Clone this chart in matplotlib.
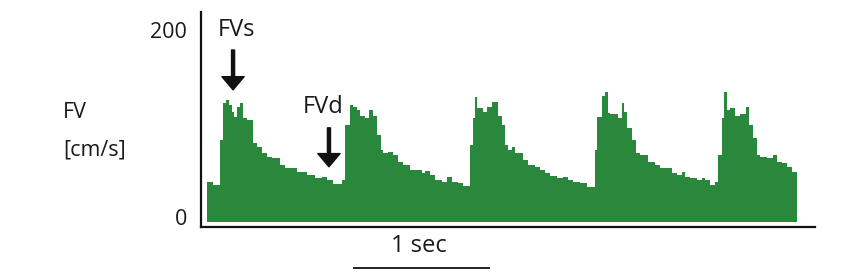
import matplotlib
matplotlib.use("Agg")
import matplotlib.pyplot as plt
import matplotlib.transforms as mtransforms

plt.rcParams['font.family'] = ['Open Sans', 'DejaVu Sans']

# ---- data: Doppler flow-velocity trace (step samples) ----
step_start_s = [
    0.000, 0.044, 0.095, 0.117, 0.139, 0.161, 0.182, 0.197, 0.219, 0.241,
    0.263, 0.292, 0.336, 0.365, 0.401, 0.438, 0.474, 0.533, 0.569, 0.657,
    0.730, 0.788, 0.839, 0.876, 0.920, 0.985, 1.007, 1.044, 1.066, 1.095,
    1.117, 1.153, 1.182, 1.212, 1.241, 1.270, 1.285, 1.321, 1.358, 1.394,
    1.431, 1.482, 1.569, 1.591, 1.628, 1.664, 1.715, 1.752, 1.788, 1.832,
    1.869, 1.920, 1.942, 1.956, 1.971, 2.015, 2.044, 2.080, 2.124, 2.153,
    2.175, 2.197, 2.226, 2.248, 2.270, 2.307, 2.343, 2.394, 2.431, 2.467,
    2.504, 2.555, 2.599, 2.635, 2.672, 2.723, 2.774, 2.832, 2.847, 2.883,
    2.905, 2.927, 2.942, 3.000, 3.029, 3.044, 3.066, 3.102, 3.131, 3.161,
    3.219, 3.270, 3.307, 3.394, 3.431, 3.467, 3.489, 3.526, 3.577, 3.613,
    3.635, 3.672, 3.708, 3.730, 3.759, 3.774, 3.796, 3.818, 3.854, 3.891,
    3.934, 3.956, 3.985, 4.015, 4.036, 4.088, 4.131, 4.161, 4.197, 4.234,
    4.270,
]
velocity_cm_s = [
    40, 37, 84, 123, 126, 121, 114, 108, 119, 123,
    107, 105, 81, 77, 70, 66, 65, 58, 55, 50,
    47, 44, 45, 42, 38, 42, 100, 121, 119, 116,
    110, 107, 116, 110, 89, 74, 70, 72, 68, 61,
    58, 53, 49, 52, 47, 42, 40, 45, 40, 39,
    36, 79, 107, 130, 118, 114, 119, 124, 110, 100,
    79, 74, 77, 71, 70, 63, 58, 56, 53, 49,
    46, 44, 45, 42, 40, 39, 35, 74, 108, 131,
    135, 113, 112, 107, 123, 114, 97, 84, 70, 68,
    61, 58, 55, 49, 47, 50, 45, 44, 42, 44,
    42, 37, 40, 68, 107, 135, 116, 118, 110, 112,
    119, 100, 86, 68, 66, 65, 68, 61, 60, 56,
    51,
]
trace_end_s = 4.307
y_tick_values = [0, 200]
y_tick_labels = ["0", "200"]

W, H = 846, 274
fig = plt.figure(figsize=(W / 100, H / 100), dpi=100)
ax = fig.add_axes([201 / W, (H - 227) / H, (815 - 201) / W, (227 - 12) / H])

green = "#2a883c"
t_edges = step_start_s + [trace_end_s]
v_edges = velocity_cm_s + [velocity_cm_s[-1]]
ax.fill_between(t_edges, v_edges, -2.1, step="post", color=green, linewidth=0)

ax.set_xlim(-0.044, 4.438)
ax.set_ylim(-7.4, 219)

for s in ["top", "right"]:
    ax.spines[s].set_visible(False)
for s in ["left", "bottom"]:
    ax.spines[s].set_linewidth(1.6)
    ax.spines[s].set_color("#111111")
ax.set_xticks([])
ax.set_yticks(y_tick_values)
ax.set_yticklabels(y_tick_labels, fontsize=15.5, color="#1a1a1a")
ax.tick_params(axis="y", length=0, pad=10)
# the "0" label sits slightly above the baseline in the reference
ax.get_yticklabels()[0].set_transform(
    ax.get_yticklabels()[0].get_transform()
    + mtransforms.ScaledTranslation(0, 3 / 100, fig.dpi_scale_trans))

# arrows + labels
arrow_kw = dict(facecolor="#111111", edgecolor="#111111", width=2.2,
                headwidth=16, headlength=9.5, shrink=0)
ax.annotate("", xy=(0.19, 137), xytext=(0.19, 179), arrowprops=arrow_kw)
ax.annotate("", xy=(0.89, 56), xytext=(0.89, 97), arrowprops=arrow_kw)
ax.text(0.212, 200, "FVs", fontsize=17, ha="center", va="center", color="#1a1a1a")
ax.text(0.847, 119, "FVd", fontsize=17, ha="center", va="center", color="#1a1a1a")

# y-axis label
fig.text(63 / W, 1 - 113 / H, "FV", fontsize=15.5, ha="left", va="center", color="#1a1a1a")
fig.text(63 / W, 1 - 150 / H, "[cm/s]", fontsize=15.5, ha="left", va="center", color="#1a1a1a")

# time scale bar (1 sec)
trans = mtransforms.blended_transform_factory(ax.transData, fig.transFigure)
bar_start = 1.066
ax.plot([bar_start, bar_start + 1.0], [1 - 268 / H, 1 - 268 / H], transform=trans,
        color="#111111", linewidth=1.3, clip_on=False, solid_capstyle="butt")
ax.text(bar_start + 0.48, 1 - 246 / H, "1 sec", transform=trans, fontsize=17,
        ha="center", va="center", color="#1a1a1a")

fig.savefig("out.png", dpi=100)
